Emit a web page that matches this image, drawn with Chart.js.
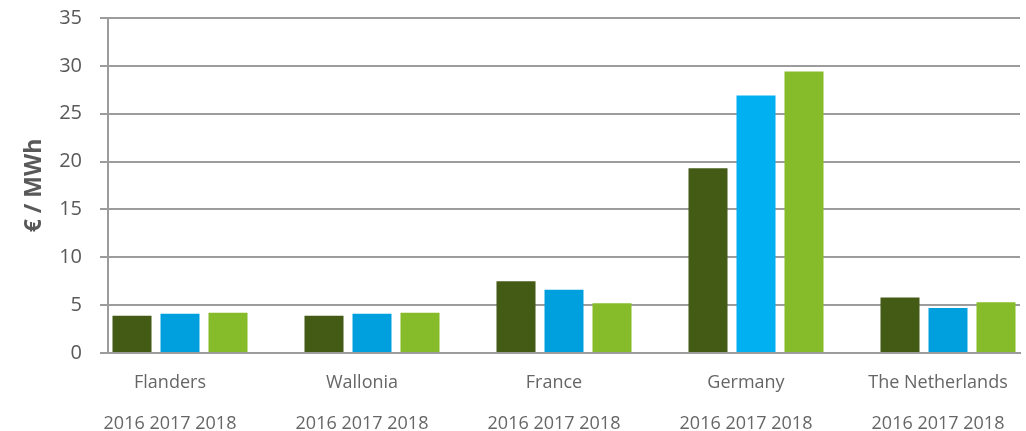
<!DOCTYPE html>
<html>
<head>
<meta charset="utf-8">
<script src="https://cdn.jsdelivr.net/npm/chart.js@4"></script>
<style>
  html, body { margin: 0; padding: 0; background: #fff; }
  #wrap { width: 1026px; height: 431px; }
</style>
</head>
<body>
<div id="wrap"><canvas id="chart"></canvas></div>
<script>
const countries = ["Flanders", "Wallonia", "France", "Germany", "The Netherlands"];
const years = ["2016", "2017", "2018"];
const values2016 = [3.9, 3.9, 7.5, 19.3, 5.8];
const values2017 = [4.1, 4.1, 6.6, 26.9, 4.7];
const values2018 = [4.2, 4.2, 5.2, 29.4, 5.3];
const yTicks = [0, 5, 10, 15, 20, 25, 30, 35];

// each country = 3 bar slots + 1 empty slot between groups
const SLOT = years.length + 1;
const slotCount = countries.length * SLOT - 1;

const labels = [];
for (let i = 0; i < slotCount; i++) {
  const c = Math.floor(i / SLOT);
  labels.push(i % SLOT === 1 ? [countries[c], years.join(" ")] : "");
}

function spread(values, yearIdx) {
  const out = new Array(slotCount).fill(null);
  values.forEach((v, c) => { out[c * SLOT + yearIdx] = v; });
  return out;
}

const blue = (ctx) => (Math.floor(ctx.dataIndex / SLOT) === 3 ? "#00B0F0" : "#00A0DF");

const TICK_COLOR = "#595959";
const GRID_COLOR = "#9c9c9c";

new Chart(document.getElementById("chart"), {
  type: "bar",
  data: {
    labels,
    datasets: [
      { label: years[0], data: spread(values2016, 0), backgroundColor: "#435B14" },
      { label: years[1], data: spread(values2017, 1), backgroundColor: blue },
      { label: years[2], data: spread(values2018, 2), backgroundColor: "#86BC29" },
    ],
  },
  options: {
    responsive: true,
    maintainAspectRatio: false,
    animation: false,
    grouped: false,
    categoryPercentage: 1,
    barPercentage: 0.8125,
    layout: { padding: { top: 18, right: 6, left: 0, bottom: 0 } },
    plugins: { legend: { display: false }, tooltip: { enabled: false } },
    scales: {
      x: {
        grid: { display: false },
        border: { display: true, color: GRID_COLOR, width: 2 },
        afterFit: (s) => { s.height = 78; s.paddingTop = 0; s.paddingBottom = 0; },
        ticks: {
          autoSkip: false,
          maxRotation: 0,
          padding: 1,
          labelOffset: -10,
          color: "#666666",
          font: { family: "'Open Sans', sans-serif", size: 18, lineHeight: 2.28 },
        },
      },
      y: {
        min: 0,
        max: 35,
        afterFit: (s) => { s.width = 108; s.paddingTop = 0; s.paddingBottom = 0; },
        afterBuildTicks: (s) => { s.ticks = yTicks.map((v) => ({ value: v })); },
        grid: { color: GRID_COLOR, lineWidth: 2, tickLength: 8 },
        border: { display: true, color: GRID_COLOR, width: 2 },
        ticks: {
          padding: 18,
          color: TICK_COLOR,
          font: { family: "'Open Sans', sans-serif", size: 20 },
        },
        title: {
          display: true,
          text: "€ / MWh",
          color: TICK_COLOR,
          padding: { top: 21, bottom: 0 },
          font: { family: "'Open Sans', sans-serif", size: 23, weight: "bold", lineHeight: 1.2 },
        },
      },
    },
  },
});
</script>
</body>
</html>
